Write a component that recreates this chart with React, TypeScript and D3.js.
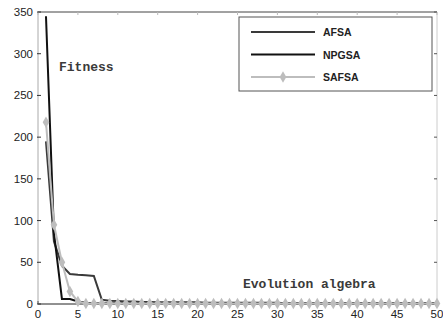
import React from 'react';
import * as d3 from 'd3';

// evolution algebra 1..50
const iterations = d3.range(1, 51);

const afsa = [195, 75, 46, 36, 35, 34.5, 33.5, 5, 4, 3.5, 3, 3, 2.5, 2.5, 2, 2, 2, 2, 2, 2,
  1.5, 1.5, 1.5, 1.5, 1.5, 1.5, 1.5, 1.5, 1.5, 1.5, 1, 1, 1, 1, 1, 1, 1, 1, 1, 1,
  1, 1, 1, 1, 1, 1, 1, 1, 1, 1];
const npgsa = [345, 85, 6, 6, 3, 1.5, 1, 1, 1, 1, 1, 1, 1, 1, 1, 1, 1, 1, 1, 1,
  1, 1, 1, 1, 1, 1, 1, 1, 1, 1, 1, 1, 1, 1, 1, 1, 1, 1, 1, 1,
  1, 1, 1, 1, 1, 1, 1, 1, 1, 1];
const safsa = [218, 95, 50, 15, 3, 0.5, 0.5, 0.5, 0.5, 0.5, 0.5, 0.5, 0.5, 0.5, 0.5, 0.5, 0.5, 0.5, 0.5, 0.5,
  0.5, 0.5, 0.5, 0.5, 0.5, 0.5, 0.5, 0.5, 0.5, 0.5, 0.5, 0.5, 0.5, 0.5, 0.5, 0.5, 0.5, 0.5, 0.5, 0.5,
  0.5, 0.5, 0.5, 0.5, 0.5, 0.5, 0.5, 0.5, 0.5, 0.5];

const xTicks = [0, 5, 10, 15, 20, 25, 30, 35, 40, 45, 50];
const yTicks = [0, 50, 100, 150, 200, 250, 300, 350];

const seriesNames = ['AFSA', 'NPGSA', 'SAFSA'];
const seriesColors = ['#3a3a3a', '#111111', '#bdbdbd'];

const W = 443;
const H = 320;

const App = () => {
  const x = d3.scaleLinear().domain([0, 50]).range([38, 437]);
  const y = d3.scaleLinear().domain([0, 350]).range([304, 12]);

  const line = d3.line<number>()
    .x((d, i) => x(iterations[i]))
    .y(d => y(d));

  const allSeries = [afsa, npgsa, safsa];
  const diamond = d3.symbol().type(d3.symbolDiamond).size(38)();

  const tickFont = { fontFamily: 'Liberation Sans, Arial, sans-serif', fontSize: 11.5, fill: '#222' };
  const monoFont = { fontFamily: 'Liberation Mono, Courier New, monospace', fontSize: 13, fontWeight: 'bold' as const, fill: '#3a3a3a' };

  const [x0, x1] = x.range();
  const [y0, y1] = y.range();

  return (
    <svg width={W} height={H} style={{ position: 'absolute', left: 0, top: 0, background: '#fff' }}>
      {/* axes frame */}
      <line x1={x0} x2={x1} y1={y0} y2={y0} stroke="#222" strokeWidth={1} />
      <line x1={x0} x2={x1} y1={y1} y2={y1} stroke="#444" strokeWidth={1} />
      <line x1={x0} x2={x0} y1={y0} y2={y1} stroke="#aaa" strokeWidth={1} />
      <line x1={x1} x2={x1} y1={y0} y2={y1} stroke="#ccc" strokeWidth={1} />

      {/* x ticks */}
      {xTicks.map(t => (
        <g key={'xt' + t}>
          <line x1={x(t)} x2={x(t)} y1={y0} y2={y0 - 3} stroke="#555" />
          <line x1={x(t)} x2={x(t)} y1={y1} y2={y1 + 3} stroke="#bbb" />
          <text x={x(t)} y={318} textAnchor="middle" style={tickFont}>{t}</text>
        </g>
      ))}

      {/* y ticks */}
      {yTicks.map(t => (
        <g key={'yt' + t}>
          <line x1={x0 - 1} x2={x0 + 3} y1={y(t)} y2={y(t)} stroke="#333" />
          <line x1={x1} x2={x1 - 3} y1={y(t)} y2={y(t)} stroke="#555" />
          <text x={33} y={y(t) + 4} textAnchor="end" style={tickFont}>{t}</text>
        </g>
      ))}

      {/* series */}
      {allSeries.map((s, k) => (
        <path key={'s' + k} d={line(s) || ''} fill="none" stroke={seriesColors[k]} strokeWidth={2} />
      ))}
      {safsa.map((v, i) => (
        <path key={'m' + i} d={diamond || ''} transform={`translate(${x(iterations[i])},${y(v)})`} fill={seriesColors[2]} />
      ))}

      {/* annotations */}
      <text x={59} y={71} style={monoFont}>Fitness</text>
      <text x={243} y={288} style={monoFont}>Evolution algebra</text>

      {/* legend */}
      <rect x={239} y={17} width={193} height={74} fill="#fff" stroke="#555" strokeWidth={1} />
      {seriesNames.map((name, k) => {
        const ry = 32 + k * 22.5;
        return (
          <g key={'lg' + name}>
            <line x1={251} x2={315} y1={ry} y2={ry} stroke={seriesColors[k]} strokeWidth={2.2} />
            {k === 2 && <path d={diamond || ''} transform={`translate(283,${ry})`} fill={seriesColors[2]} />}
            <text x={323} y={ry + 4} style={{ ...tickFont, fontWeight: 'bold', fontSize: 10.5 }}>{name}</text>
          </g>
        );
      })}
    </svg>
  );
};

export default App;
